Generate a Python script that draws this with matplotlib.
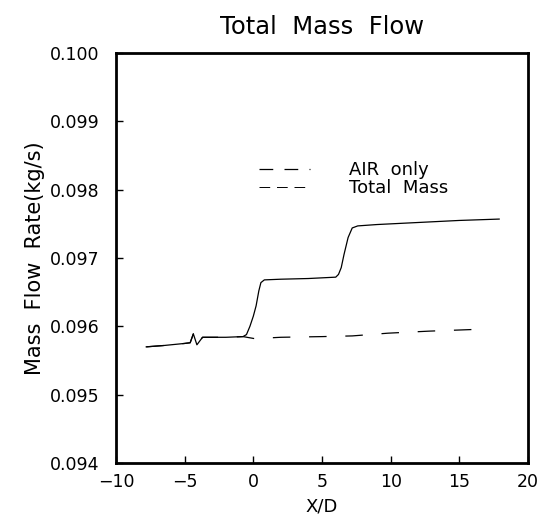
import matplotlib
matplotlib.use("Agg")
import matplotlib.pyplot as plt
from matplotlib.lines import Line2D

# ---- data ----
total_x = [-7.8, -6.5, -5.0, -4.6, -4.37, -4.11, -3.7, -2.0, -0.75, -0.5, -0.25, 0.0,
           0.2, 0.4, 0.55, 0.8, 2.0, 4.0, 6.0, 6.2, 6.4, 6.6, 6.9, 7.2, 7.6, 9.0,
           12.0, 15.0, 17.9]
total_y = [0.09570, 0.09572, 0.09575, 0.09576, 0.09589, 0.09573, 0.09584, 0.09584,
           0.09585, 0.09588, 0.09600, 0.09615, 0.09630, 0.09652, 0.09664, 0.09668,
           0.09669, 0.09670, 0.09672, 0.09676, 0.09686, 0.09705, 0.09730, 0.09744,
           0.09747, 0.09749, 0.09752, 0.09755, 0.09757]

air_x = [-7.8, -6.5, -5.0, -4.6, -4.37, -4.11, -3.7, -2.0, -0.75, 0.1, 2.0, 5.0,
         7.2, 9.8, 12.8, 16.8]
air_y = [0.09570, 0.09572, 0.09575, 0.09576, 0.09589, 0.09573, 0.09584, 0.09584,
         0.09585, 0.09582, 0.09584, 0.09585, 0.09586, 0.09590, 0.09593, 0.09596]

x_ticks = [-10, -5, 0, 5, 10, 15, 20]
y_ticks = [0.094, 0.095, 0.096, 0.097, 0.098, 0.099, 0.100]
y_tick_labels = ["0.094", "0.095", "0.096", "0.097", "0.098", "0.099", "0.100"]

title = "Total  Mass  Flow"
xlabel = "X/D"
ylabel = "Mass  Flow  Rate(kg/s)"
series_labels = ["AIR  only", "Total  Mass"]

plt.rcParams['font.family'] = ['DejaVu Sans']

fig = plt.figure(figsize=(5.53, 5.2), dpi=100)
ax = fig.add_axes([0.2098, 0.1096, 0.9548 - 0.2098, 0.898 - 0.1096])

ax.plot(air_x, air_y, color='black', lw=0.9, linestyle=(0, (14, 15)))
ax.plot(total_x, total_y, color='black', lw=0.9)

ax.set_xlim(-10, 20)
ax.set_ylim(0.094, 0.100)
ax.set_xticks(x_ticks)
ax.set_yticks(y_ticks)
ax.set_yticklabels(y_tick_labels)

for s in ax.spines.values():
    s.set_linewidth(2.0)

ax.tick_params(axis='both', direction='in', length=5, width=1.0, labelsize=12.5,
               colors='black')
ax.tick_params(axis='x', pad=7)
ax.tick_params(axis='y', pad=12)

ax.set_title(title, fontsize=17.5, pad=14)
ax.set_xlabel(xlabel, fontsize=13, labelpad=5)
ax.set_ylabel(ylabel, fontsize=15, labelpad=3)

handles = [Line2D([0], [0], color='black', lw=0.9, linestyle=(0, (11, 9))),
           Line2D([0], [0], color='black', lw=0.7, linestyle=(0, (11, 7)))]
leg = ax.legend(handles, series_labels, loc='upper left',
                bbox_to_anchor=(0.347, 0.737), frameon=False, fontsize=13,
                handlelength=2.8, handletextpad=2.2, labelspacing=0.0,
                borderpad=0, borderaxespad=0)

fig.savefig("out.png", dpi=100)
